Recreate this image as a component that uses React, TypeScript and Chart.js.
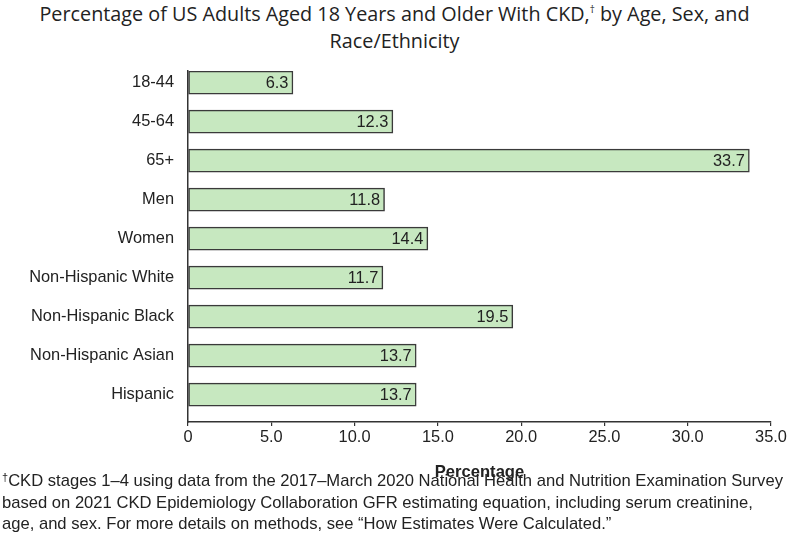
import React, { useEffect, useRef } from 'react';
import { Chart, registerables } from 'chart.js';

Chart.register(...registerables);

const categories = [
  '18-44',
  '45-64',
  '65+',
  'Men',
  'Women',
  'Non-Hispanic White',
  'Non-Hispanic Black',
  'Non-Hispanic Asian',
  'Hispanic',
];
const percentages = [6.3, 12.3, 33.7, 11.8, 14.4, 11.7, 19.5, 13.7, 13.7];
const xTickValues = [0, 5, 10, 15, 20, 25, 30, 35];
const xTickLabels = ['0', '5.0', '10.0', '15.0', '20.0', '25.0', '30.0', '35.0'];
const axisTitle = 'Percentage';
const footnoteLines = [
  'CKD stages 1\u20134 using data from the 2017\u2013March 2020 National Health and Nutrition Examination Survey',
  'based on 2021 CKD Epidemiology Collaboration GFR estimating equation, including serum creatinine,',
  'age, and sex. For more details on methods, see \u201cHow Estimates Were Calculated.\u201d',
];

const FONT = '"Liberation Sans", Arial, sans-serif';
const TEXT = '#222222';

const valueLabels = {
  id: 'valueLabels',
  afterDatasetsDraw(chart: any) {
    const ctx = chart.ctx;
    const meta = chart.getDatasetMeta(0);
    ctx.save();
    ctx.font = `16.4px ${FONT}`;
    ctx.fillStyle = TEXT;
    ctx.textAlign = 'right';
    ctx.textBaseline = 'middle';
    meta.data.forEach((bar: any, i: number) => {
      const { x, y } = bar.getProps(['x', 'y'], true);
      ctx.fillText(percentages[i].toFixed(1), x - 4.5, y + 1);
    });
    ctx.restore();
  },
};

export default function App() {
  const canvasRef = useRef<HTMLCanvasElement | null>(null);

  useEffect(() => {
    if (!canvasRef.current) return;
    const chart = new Chart(canvasRef.current, {
      type: 'bar',
      data: {
        datasets: [
          {
            data: categories.map((_, i) => ({ x: percentages[i], y: i })),
            backgroundColor: '#c7e8c0',
            borderColor: '#3a3a3a',
            borderWidth: 1.5,
            borderSkipped: false,
            barThickness: 23,
          },
        ],
      },
      plugins: [valueLabels],
      options: {
        indexAxis: 'y',
        animation: false,
        responsive: false,
        devicePixelRatio: 1,
        layout: { padding: { top: 71, left: 0, right: 18, bottom: 58 } },
        plugins: {
          legend: { display: false },
          tooltip: { enabled: false },
          title: { display: false },
        },
        scales: {
          x: {
            type: 'linear',
            position: 'bottom',
            min: 0,
            max: 35,
            afterBuildTicks: (scale: any) => {
              scale.ticks = xTickValues.map((v) => ({ value: v }));
            },
            afterFit: (scale: any) => {
              scale.height = 60;
            },
            ticks: {
              padding: 1.5,
              color: TEXT,
              font: { family: FONT, size: 16.4 },
              maxRotation: 0,
              callback: (_v: any, i: number) => xTickLabels[i],
            },
            grid: {
              drawOnChartArea: false,
              drawTicks: true,
              tickLength: 4,
              color: '#333333',
              lineWidth: 1.2,
            },
            border: { display: true, color: '#333333', width: 1.5 },
            title: {
              display: true,
              text: axisTitle,
              color: TEXT,
              font: { family: FONT, size: 16.6, weight: 'bold' },
              padding: { top: 0, bottom: 0 },
            },
          },
          y: {
            type: 'linear',
            position: 'left',
            reverse: true,
            offset: false,
            min: -0.3,
            max: 8.7,
            afterBuildTicks: (scale: any) => {
              scale.ticks = categories.map((_, i) => ({ value: i }));
            },
            afterFit: (scale: any) => {
              scale.width = 188;
            },
            ticks: {
              padding: 14,
              color: TEXT,
              font: { family: FONT, size: 16.4 },
              callback: (_v: any, i: number) => categories[i],
            },
            grid: { display: false, drawTicks: false },
            border: { display: true, color: '#333333', width: 1.5 },
          },
        },
      } as any,
    });
    return () => chart.destroy();
  }, []);

  return (
    <div
      style={{
        position: 'fixed',
        left: 0,
        top: 0,
        width: 789,
        height: 540,
        background: '#ffffff',
        overflow: 'hidden',
      }}
    >
      <div
        style={{
          position: 'absolute',
          left: 0,
          top: 0,
          width: 789,
          textAlign: 'center',
          fontFamily: '"Open Sans", sans-serif',
          fontSize: 19.8,
          lineHeight: '27px',
          color: TEXT,
          whiteSpace: 'nowrap',
        }}
      >
        Percentage of US Adults Aged 18 Years and Older With CKD,
        <span style={{ fontSize: 10, verticalAlign: 'top', lineHeight: '18px' }}>{'\u2020'}</span> by Age, Sex, and
        <br />
        Race/Ethnicity
      </div>
      <canvas
        ref={canvasRef}
        width={789}
        height={540}
        style={{ position: 'absolute', left: 0, top: 0, width: 789, height: 540 }}
      />
      <div
        style={{
          position: 'absolute',
          left: 2,
          top: 470,
          fontFamily: FONT,
          fontSize: 16.6,
          lineHeight: '21.5px',
          color: TEXT,
          whiteSpace: 'nowrap',
        }}
      >
        {footnoteLines.map((line, i) => (
          <div key={i}>
            {i === 0 ? (
              <span style={{ fontSize: 11, verticalAlign: 'top', lineHeight: '14px' }}>{'\u2020'}</span>
            ) : null}
            {line}
          </div>
        ))}
      </div>
    </div>
  );
}
